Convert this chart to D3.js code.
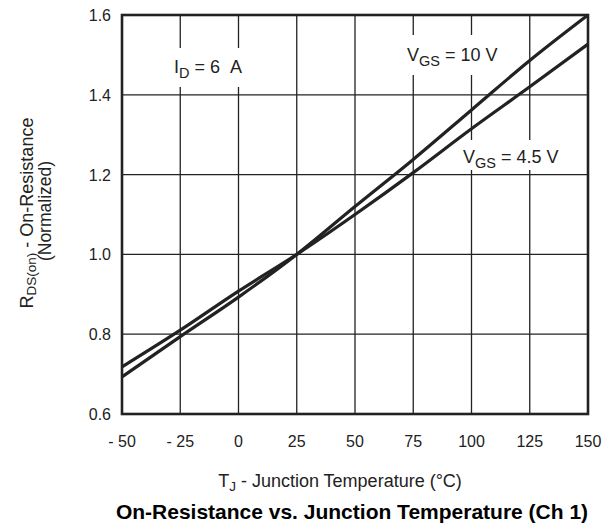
<!DOCTYPE html>
<html>
<head>
<meta charset="utf-8">
<script src="https://cdn.jsdelivr.net/npm/d3@7"></script>
<style>
  body { margin: 0; background: #fff; }
  text { font-family: "Liberation Sans", Arial, sans-serif; fill: #222; }
</style>
</head>
<body>
<div id="chart"></div>
<script>
const temps = [-50, -25, 0, 25, 50, 75, 100, 125, 150];
const vgs10 = [0.693, 0.794, 0.893, 1.0, 1.12, 1.238, 1.362, 1.486, 1.6];
const vgs45 = [0.718, 0.81, 0.908, 1.0, 1.1, 1.205, 1.315, 1.42, 1.527];
const xTicks = [-50, -25, 0, 25, 50, 75, 100, 125, 150];
const yTicks = [0.6, 0.8, 1.0, 1.2, 1.4, 1.6];

const width = 613, height = 525;
const margin = { top: 15, right: 25, bottom: 111, left: 122 };

const svg = d3.select('#chart').append('svg')
  .attr('width', width)
  .attr('height', height);

const x = d3.scaleLinear().domain([-50, 150]).range([margin.left, width - margin.right]);
const y = d3.scaleLinear().domain([0.6, 1.6]).range([height - margin.bottom, margin.top]);

// grid
const grid = svg.append('g').attr('stroke', '#222').attr('stroke-width', 1.3);
grid.selectAll('line.v').data(xTicks.slice(1, -1)).enter().append('line')
  .attr('x1', d => x(d)).attr('x2', d => x(d))
  .attr('y1', y(0.6)).attr('y2', y(1.6));
grid.selectAll('line.h').data(yTicks.slice(1, -1)).enter().append('line')
  .attr('x1', x(-50)).attr('x2', x(150))
  .attr('y1', d => y(d)).attr('y2', d => y(d));

// white boxes behind the labels, they cut the grid lines
const boxes = [
  [168, 48, 252, 87],
  [400, 35, 505, 75],
  [458, 140, 565, 170],
];
svg.selectAll('rect.mask').data(boxes).enter().append('rect')
  .attr('x', d => d[0]).attr('y', d => d[1])
  .attr('width', d => d[2] - d[0]).attr('height', d => d[3] - d[1])
  .attr('fill', '#fff');

// frame
svg.append('rect')
  .attr('x', x(-50)).attr('y', y(1.6))
  .attr('width', x(150) - x(-50)).attr('height', y(0.6) - y(1.6))
  .attr('fill', 'none').attr('stroke', '#222').attr('stroke-width', 2.6);

// curves
const line = d3.line().x((d, i) => x(temps[i])).y(d => y(d)).curve(d3.curveMonotoneX);
[vgs10, vgs45].forEach(s => {
  svg.append('path').datum(s)
    .attr('d', line)
    .attr('fill', 'none').attr('stroke', '#222').attr('stroke-width', 3.2);
});

// tick labels
svg.selectAll('text.xt').data(xTicks).enter().append('text')
  .attr('x', d => x(d)).attr('y', y(0.6) + 33)
  .attr('text-anchor', 'middle').attr('font-size', 16)
  .text(d => d < 0 ? '- ' + Math.abs(d) : d);
svg.selectAll('text.yt').data(yTicks).enter().append('text')
  .attr('x', x(-50) - 11).attr('y', d => y(d) + 6)
  .attr('text-anchor', 'end').attr('font-size', 16)
  .text(d => d.toFixed(1));

// annotations with subscripts
function label(px, py, main, sub, rest) {
  const t = svg.append('text').attr('x', px).attr('y', py).attr('font-size', 18);
  t.append('tspan').text(main);
  t.append('tspan').attr('font-size', 14.5).attr('dy', 5).text(sub);
  t.append('tspan').attr('dy', -5).text(rest);
  return t;
}
label(174, 73, 'I', 'D', ' = 6\u00a0\u00a0A');
label(407, 61, 'V', 'GS', ' = 10 V');
label(463, 163, 'V', 'GS', ' = 4.5 V');

// x axis title
const xt = svg.append('text').attr('x', 340).attr('y', 487)
  .attr('text-anchor', 'middle').attr('font-size', 18);
xt.append('tspan').text('T');
xt.append('tspan').attr('font-size', 13.5).attr('dy', 4).text('J');
xt.append('tspan').attr('dy', -4).text(' - Junction Temperature (°C)');

// y axis title
const yt = svg.append('text')
  .attr('transform', 'translate(33,213) rotate(-90)')
  .attr('text-anchor', 'middle').attr('font-size', 18);
yt.append('tspan').text('R');
yt.append('tspan').attr('font-size', 13.5).attr('dy', 3).text('DS(on)');
yt.append('tspan').attr('dy', -3).text(' - On-Resistance');
svg.append('text')
  .attr('transform', 'translate(51,211) rotate(-90)')
  .attr('text-anchor', 'middle').attr('font-size', 17.5)
  .text('(Normalized)');

// chart title
svg.append('text').attr('x', 352).attr('y', 519)
  .attr('text-anchor', 'middle').attr('font-size', 21).attr('font-weight', 'bold')
  .style('fill', '#000')
  .text('On-Resistance vs. Junction Temperature (Ch 1)');
</script>
</body>
</html>
